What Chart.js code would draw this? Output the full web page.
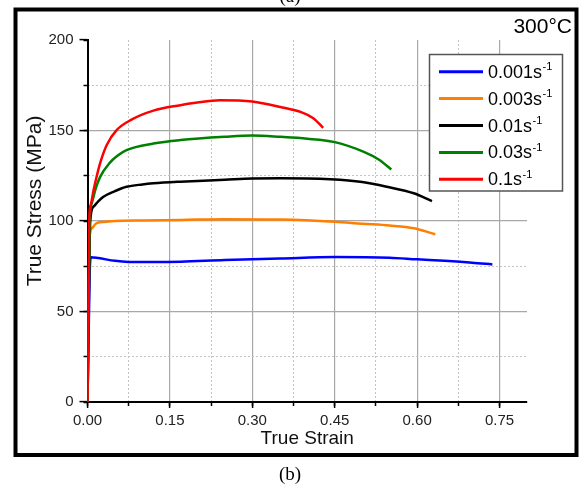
<!DOCTYPE html>
<html>
<head>
<meta charset="utf-8">
<script src="https://cdn.jsdelivr.net/npm/chart.js@4.4.0/dist/chart.umd.min.js"></script>
<style>
    html, body { margin: 0; padding: 0; background: #fff; }
    #wrap { width: 579px; height: 485px; }
</style>
</head>
<body>
<div id="wrap"><canvas id="flowCurves" width="579" height="485"></canvas></div>
<script>
// Strain rates (s^-1) and line colours
const rates = ['0.001', '0.003', '0.01', '0.03', '0.1'];
const rateColors = ['#0000ff', '#ff7f00', '#000000', '#008000', '#ff0000'];

// True strain / true stress (MPa)
const strain001 = [0, 0.004, 0.006, 0.02, 0.05, 0.075, 0.12, 0.17, 0.25, 0.35, 0.45, 0.55, 0.6, 0.65, 0.7, 0.737];
const stress001 = [0, 71, 80, 79.5, 78, 77.4, 77.3, 77.5, 78.5, 79.3, 80.1, 79.7, 78.8, 78, 77, 76];

const strain003 = [0, 0.004, 0.008, 0.015, 0.03, 0.05, 0.1, 0.17, 0.25, 0.35, 0.45, 0.5, 0.55, 0.594, 0.633];
const stress003 = [0, 92, 96, 98.5, 99.5, 100, 100.3, 100.6, 101, 100.8, 99.6, 98.5, 97.5, 96, 92.7];

const strain01 = [0, 0.005, 0.011, 0.02, 0.029, 0.05, 0.071, 0.1, 0.12, 0.169, 0.25, 0.3, 0.351, 0.442, 0.5, 0.545, 0.594, 0.627];
const stress01 = [0, 100, 107.9, 111, 113.4, 116.5, 118.9, 120.2, 120.8, 121.7, 122.8, 123.5, 123.6, 123, 121.5, 118.9, 115.3, 111];

const strain03 = [0, 0.004, 0.008, 0.015, 0.023, 0.04, 0.055, 0.071, 0.12, 0.169, 0.25, 0.3, 0.351, 0.4, 0.448, 0.503, 0.53, 0.553];
const stress03 = [0, 100, 110, 118, 124.4, 132, 136.2, 139.2, 142.8, 144.7, 146.5, 147.2, 146.5, 145.5, 143.7, 138.2, 134, 128.5];

const strain1 = [0, 0.003, 0.006, 0.011, 0.017, 0.023, 0.035, 0.053, 0.08, 0.12, 0.169, 0.2, 0.241, 0.3, 0.351, 0.39, 0.411, 0.429];
const stress1 = [0, 100, 109, 117, 125, 132, 142, 150.2, 156, 161, 164, 165.5, 166.7, 166, 163, 160, 156.8, 151.5];

const strainSets = [strain001, strain003, strain01, strain03, strain1];
const stressSets = [stress001, stress003, stress01, stress03, stress1];

const tempLabel = '300°C';
const yTitle = 'True Stress (MPa)';
const FONT = '"Liberation Sans", Arial, sans-serif';
const CLEAR = 'rgba(0,0,0,0)';

function toPoints(xs, ys) {
    return xs.map((x, i) => ({ x: x, y: ys[i] }));
}

function isMultiple(v, step) {
    const r = v / step;
    return Math.abs(r - Math.round(r)) < 1e-6;
}

// frame, temperature, panel letters, y title and the boxed legend
const decorPlugin = {
    id: 'decor',
    beforeDraw(chart) {
        const ctx = chart.ctx;
        ctx.save();
        ctx.fillStyle = '#fff';
        ctx.fillRect(0, 0, chart.width, chart.height);
        ctx.restore();
    },
    afterDraw(chart) {
        const ctx = chart.ctx;
        ctx.save();

        ctx.strokeStyle = '#000';
        ctx.lineWidth = 4;
        ctx.strokeRect(15.5, 9.5, 561, 445.5);

        ctx.fillStyle = '#000';
        ctx.font = '21px ' + FONT;
        ctx.textAlign = 'right';
        ctx.textBaseline = 'alphabetic';
        ctx.fillText(tempLabel, 572, 33);

        ctx.font = '19px "Liberation Serif", "Times New Roman", serif';
        ctx.textAlign = 'center';
        ctx.fillText('(a)', 290, 2);
        ctx.fillText('(b)', 290, 480);

        // y axis title
        ctx.save();
        ctx.translate(35, 201);
        ctx.rotate(-Math.PI / 2);
        ctx.fillStyle = '#111';
        ctx.font = '21px ' + FONT;
        ctx.textAlign = 'center';
        ctx.textBaseline = 'middle';
        ctx.fillText(yTitle, 0, 0);
        ctx.restore();

        // legend box
        const bx = 429.5, by = 54.5, bw = 133, bh = 136.5;
        ctx.fillStyle = '#fff';
        ctx.fillRect(bx, by, bw, bh);
        ctx.strokeStyle = '#555';
        ctx.lineWidth = 1.5;
        ctx.strokeRect(bx, by, bw, bh);

        chart.data.datasets.forEach((ds, i) => {
            const rowY = 71.7 + i * 26.9;
            ctx.strokeStyle = ds.borderColor;
            ctx.lineWidth = 3;
            ctx.beginPath();
            ctx.moveTo(439, rowY);
            ctx.lineTo(483, rowY);
            ctx.stroke();

            ctx.fillStyle = '#000';
            ctx.textAlign = 'left';
            ctx.font = '18px ' + FONT;
            const base = ds.label + 's';
            ctx.fillText(base, 488, rowY + 6);
            const w = ctx.measureText(base).width;
            ctx.font = '11px ' + FONT;
            ctx.fillText('-1', 488 + w + 0.5, rowY - 1.7);
        });

        ctx.restore();
    }
};

const datasets = rates.map((r, i) => ({
    label: r,
    data: toPoints(strainSets[i], stressSets[i]),
    borderColor: rateColors[i],
    backgroundColor: rateColors[i],
    borderWidth: 2.5,
    pointRadius: 0,
    cubicInterpolationMode: 'monotone',
    fill: false,
    order: rates.length - 1 - i
}));

new Chart(document.getElementById('flowCurves'), {
    type: 'line',
    data: { datasets: datasets },
    plugins: [decorPlugin],
    options: {
        responsive: false,
        animation: false,
        devicePixelRatio: 1,
        layout: { padding: { left: 20, right: 52, top: 40, bottom: 0 } },
        plugins: {
            legend: { display: false },
            tooltip: { enabled: false }
        },
        scales: {
            x: {
                type: 'linear',
                position: 'bottom',
                weight: 1,
                min: 0,
                max: 0.80,
                ticks: {
                    stepSize: 0.15,
                    includeBounds: false,
                    autoSkip: false,
                    maxRotation: 0,
                    padding: 4,
                    color: '#222',
                    font: { family: FONT, size: 15 },
                    callback: v => v.toFixed(2)
                },
                grid: {
                    color: c => (c.tick && c.tick.value > 0) ? '#a8a8a8' : CLEAR,
                    lineWidth: 1.2,
                    tickLength: 6,
                    tickColor: '#000',
                    tickWidth: 1.5
                },
                border: { color: '#000', width: 2 },
                title: {
                    display: true,
                    text: 'True Strain',
                    color: '#111',
                    font: { family: FONT, size: 19 },
                    padding: { top: 0, bottom: 35 }
                },
                afterFit: s => { s.height = 83; }
            },
            xMinor: {
                type: 'linear',
                position: 'bottom',
                weight: 0,
                min: 0,
                max: 0.80,
                ticks: { display: false, stepSize: 0.075, includeBounds: false, autoSkip: false },
                grid: {
                    color: c => (c.tick && !isMultiple(c.tick.value, 0.15)) ? '#c4c4c4' : CLEAR,
                    lineWidth: 1,
                    tickLength: 4,
                    tickColor: '#000',
                    tickWidth: 1.5
                },
                border: { display: false, dash: [2, 2] },
                afterFit: s => { s.height = 0; }
            },
            y: {
                type: 'linear',
                position: 'left',
                weight: 1,
                min: 0,
                max: 200,
                ticks: {
                    stepSize: 50,
                    padding: 6,
                    color: '#222',
                    font: { family: FONT, size: 15 }
                },
                grid: {
                    color: c => (c.tick && c.tick.value > 0 && c.tick.value < 200) ? '#a8a8a8' : CLEAR,
                    lineWidth: 1.2,
                    tickLength: 8,
                    tickColor: '#000',
                    tickWidth: 1.5
                },
                border: { color: '#000', width: 2 },
                afterFit: s => { s.width = 67.5; }
            },
            yMinor: {
                type: 'linear',
                position: 'left',
                weight: 0,
                min: 0,
                max: 200,
                ticks: { display: false, stepSize: 25 },
                grid: {
                    color: c => (c.tick && !isMultiple(c.tick.value, 50)) ? '#c4c4c4' : CLEAR,
                    lineWidth: 1,
                    tickLength: 4,
                    tickColor: '#000',
                    tickWidth: 1.5
                },
                border: { display: false, dash: [2, 2] },
                afterFit: s => { s.width = 0; }
            }
        }
    }
});
</script>
</body>
</html>
